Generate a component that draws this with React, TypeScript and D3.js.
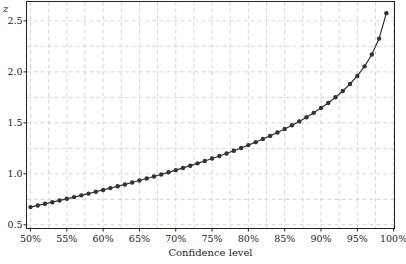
import React from "react";
import * as d3 from "d3";

const confidence = [50,51,52,53,54,55,56,57,58,59,60,61,62,63,64,65,66,67,68,69,70,71,72,73,74,75,76,77,78,79,80,81,82,83,84,85,86,87,88,89,90,91,92,93,94,95,96,97,98,99];
const zValues = [0.674,0.690,0.706,0.722,0.739,0.755,0.772,0.789,0.806,0.824,0.842,0.860,0.878,0.896,0.915,0.935,0.954,0.974,0.994,1.015,1.036,1.058,1.080,1.103,1.126,1.150,1.175,1.200,1.227,1.254,1.282,1.311,1.341,1.372,1.405,1.440,1.476,1.514,1.555,1.598,1.645,1.695,1.751,1.812,1.881,1.960,2.054,2.170,2.326,2.576];
const xTicks = [50,55,60,65,70,75,80,85,90,95,100];
const yTicks = [0.5,1.0,1.5,2.0,2.5];
const xGrid = d3.range(50, 100.01, 2.5);
const yGrid = d3.range(0.5, 2.51, 0.25);

const W = 406, H = 264;
const L = 26.5, R = 394.5, T = 1.5, B = 228.5;
const FONT = "DejaVu Serif";

export default function App() {
  const x = d3.scaleLinear().domain([49.45, 100.12]).range([L, R]);
  const y = d3.scaleLinear().domain([0.464, 2.69]).range([B, T]);
  const data = confidence.map((c, i) => ({ c, z: zValues[i] }));
  const line = d3.line<{ c: number; z: number }>().x(d => x(d.c)).y(d => y(d.z));
  return (
    <svg width={W} height={H} style={{ position: "absolute", left: 0, top: 0, background: "#fff" }}>
      <g>
        {xGrid.map(v => (
          <line key={"xg" + v} x1={x(v)} x2={x(v)} y1={T} y2={B} stroke="#d4d4d4" strokeWidth={1} strokeDasharray="4,3" />
        ))}
        {yGrid.map(v => (
          <line key={"yg" + v} x1={L} x2={R} y1={y(v)} y2={y(v)} stroke="#d4d4d4" strokeWidth={1} strokeDasharray="4,3" />
        ))}
      </g>
      <rect x={L} y={T} width={R - L} height={B - T} fill="none" stroke="#222" strokeWidth={1} />
      {xTicks.map(v => (
        <g key={"xt" + v}>
          <line x1={x(v)} x2={x(v)} y1={B} y2={B + 3} stroke="#222" />
          <text x={x(v)} y={B + 13} textAnchor="middle" fontFamily={FONT} fontSize={9.5} fill="#222">{v}%</text>
        </g>
      ))}
      {yTicks.map(v => (
        <g key={"yt" + v}>
          <line x1={L - 3} x2={L} y1={y(v)} y2={y(v)} stroke="#222" />
          <text x={L - 4} y={y(v) + 3.5} textAnchor="end" fontFamily={FONT} fontSize={9.5} fill="#222">{v.toFixed(1)}</text>
        </g>
      ))}
      <text x={3} y={12} fontFamily={FONT} fontSize={10} fontStyle="italic" fill="#222">z</text>
      <text x={(L + R) / 2} y={256} textAnchor="middle" fontFamily={FONT} fontSize={10} fill="#222">Confidence level</text>
      <path d={line(data) || ""} fill="none" stroke="#333" strokeWidth={1.2} />
      {data.map(d => (
        <circle key={d.c} cx={x(d.c)} cy={y(d.z)} r={2.2} fill="#333" />
      ))}
    </svg>
  );
}
